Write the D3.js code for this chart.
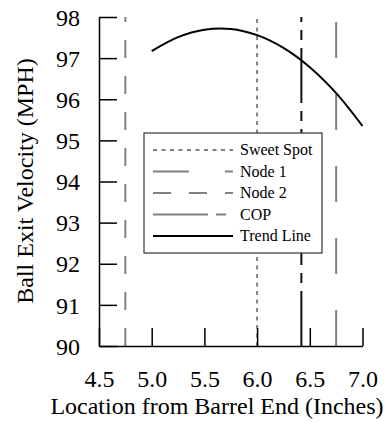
<!DOCTYPE html>
<html>
<head>
<meta charset="utf-8">
<script src="https://cdn.jsdelivr.net/npm/d3@7"></script>
<style>
  body { margin: 0; background: #fff; }
  text { font-family: "Liberation Serif", "Times New Roman", "DejaVu Serif", serif; fill: #000; }
</style>
</head>
<body>
<div id="chart"></div>
<script>
// trend line
var trendX = [5.0, 5.25, 5.5, 5.75, 6.0, 6.25, 6.5, 6.75, 7.0];
var trendY = [97.17, 97.51, 97.69, 97.71, 97.56, 97.25, 96.78, 96.15, 95.35];

// vertical markers
var markerNames = ["Sweet Spot", "Node 1", "Node 2", "COP"];
var markerX     = [6.0, 6.75, 4.75, 6.42];

var xTicks = [4.5, 5.0, 5.5, 6.0, 6.5, 7.0];
var yTicks = [90, 91, 92, 93, 94, 95, 96, 97, 98];

var legendNames = ["Sweet Spot", "Node 1", "Node 2", "COP", "Trend Line"];

drawchart();

function drawchart() {
  var svg = d3.select("#chart")
              .append("svg")
              .attr("width", 392)
              .attr("height", 422);

  var x = d3.scaleLinear().domain([4.5, 7.0]).range([99, 362.5]),
      y = d3.scaleLinear().domain([90, 98]).range([346, 17]);

  // line styles per series
  var styles = {
    "Sweet Spot": {stroke: "#808080", dash: "4,4.5"},
    "Node 1":     {stroke: "#808080", dash: "36,36"},
    "Node 2":     {stroke: "#808080", dash: "18,18"},
    "COP":        {stroke: "#808080", dash: "55,8,10,8"},
    "Trend Line": {stroke: "#000",    dash: null}
  };

  // vertical marker lines, drawn upward from the x axis
  svg.selectAll(".marker")
    .data(markerNames)
    .enter().append("line")
      .attr("class", "marker")
      .attr("x1", function(d, i) { return x(markerX[i]); })
      .attr("x2", function(d, i) { return x(markerX[i]); })
      .attr("y1", y(90))
      .attr("y2", y(98))
      .attr("stroke", function(d) { return d == "COP" ? "#111" : styles[d].stroke; })
      .attr("stroke-width", 2)
      .attr("stroke-dasharray", function(d) { return styles[d].dash; });

  // trend line
  var line = d3.line()
      .x(function(d) { return x(d[0]); })
      .y(function(d) { return y(d[1]); })
      .curve(d3.curveCatmullRom);

  svg.append("path")
      .datum(d3.zip(trendX, trendY))
      .attr("d", line)
      .attr("fill", "none")
      .attr("stroke", "#000")
      .attr("stroke-width", 2);

  // axes: ticks point inward, 18px
  var gx = svg.append("g")
      .attr("transform", "translate(0," + y(90) + ")")
      .call(d3.axisBottom(x).tickValues(xTicks).tickSizeInner(-18).tickSizeOuter(0)
              .tickFormat(d3.format(".1f")));
  gx.attr("font-family", null);
  gx.select(".domain").attr("stroke-width", 1.5);
  gx.selectAll(".tick line").attr("stroke-width", 1.5);
  gx.selectAll(".tick text")
      .attr("y", 41)
      .attr("dy", 0)
      .style("font-size", "24px");

  var gy = svg.append("g")
      .attr("transform", "translate(" + x(4.5) + ",0)")
      .call(d3.axisLeft(y).tickValues(yTicks).tickSizeInner(-18).tickSizeOuter(0));
  gy.attr("font-family", null);
  gy.select(".domain").attr("stroke-width", 1.5);
  gy.selectAll(".tick line").attr("stroke-width", 1.5);
  gy.selectAll(".tick text")
      .attr("x", -19)
      .attr("dy", "0.34em")
      .style("font-size", "24px");

  // axis titles
  svg.append("text")
      .attr("text-anchor", "middle")
      .attr("x", 217)
      .attr("y", 414)
      .style("font-size", "24px")
      .text("Location from Barrel End (Inches)");

  svg.append("text")
      .attr("text-anchor", "middle")
      .attr("transform", "translate(33,181)rotate(-90)")
      .style("font-size", "24px")
      .text("Ball Exit Velocity (MPH)");

  // legend
  var lg = svg.append("g");
  lg.append("rect")
      .attr("x", 144)
      .attr("y", 133)
      .attr("width", 178)
      .attr("height", 120)
      .attr("fill", "#fff")
      .attr("stroke", "#333")
      .attr("stroke-width", 1.2);

  var item = lg.selectAll(".item")
    .data(legendNames)
    .enter().append("g")
      .attr("class", "item")
      .attr("transform", function(d, i) { return "translate(153," + (150 + i * 21.5) + ")"; });

  item.append("line")
      .attr("x1", 0)
      .attr("x2", 80)
      .attr("stroke", function(d) { return styles[d].stroke; })
      .attr("stroke-width", 2)
      .attr("stroke-dasharray", function(d) { return styles[d].dash; });

  item.append("text")
      .attr("x", 87)
      .attr("dy", "0.34em")
      .style("font-size", "16px")
      .text(function(d) { return d; });
}
</script>
</body>
</html>
